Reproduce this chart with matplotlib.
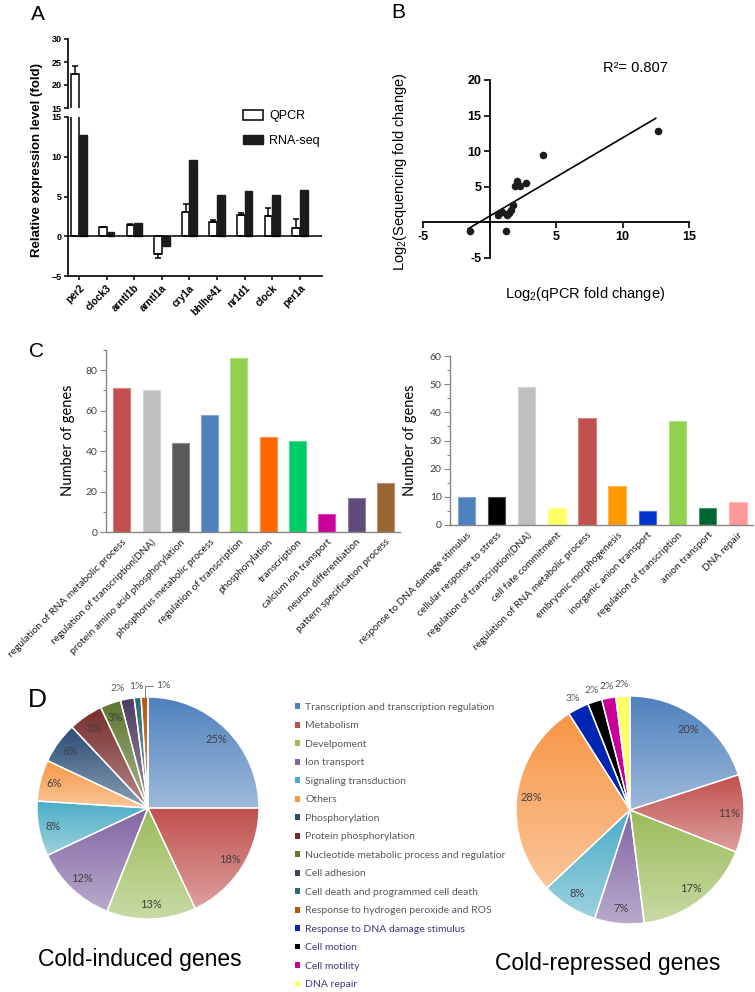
import numpy as np
import matplotlib
matplotlib.use('Agg')
import matplotlib.pyplot as plt
from matplotlib.patches import Patch
from matplotlib.ticker import FixedLocator, MultipleLocator, FuncFormatter
import matplotlib.colors as mcolors

plt.rcParams['font.family'] = ['Liberation Sans', 'DejaVu Sans']
plt.rcParams['mathtext.fontset'] = 'custom'
plt.rcParams['mathtext.rm'] = 'Liberation Sans'
plt.rcParams['mathtext.it'] = 'Liberation Sans:italic'

# ---------------- DATA ----------------
# Panel A
genes = ['per2', 'clock3', 'arntl1b', 'arntl1a', 'cry1a', 'bhlhe41', 'nr1d1', 'clock', 'per1a']
qpcr = [22.3, 1.15, 1.47, -2.25, 3.0, 1.75, 2.73, 2.52, 1.1]
qpcr_err = [1.9, 0.05, 0.05, 0.45, 1.0, 0.3, 0.2, 1.0, 1.1]
rnaseq = [12.7, 0.5, 1.64, -1.25, 9.55, 5.25, 5.63, 5.2, 5.8]

# Panel B
qpcr_log = [-1.5, 1.25, 0.65, 0.95, 1.35, 1.5, 1.6, 1.8, 1.95, 2.1, 2.3, 2.75, 4.0, 12.7]
seq_log = [-1.2, -1.15, 1.0, 1.5, 1.0, 1.35, 1.7, 2.45, 5.15, 5.75, 5.15, 5.55, 9.5, 12.9]
fit_slope = 1.10
fit_intercept = 0.87
fit_range = [-1.6, 12.5]
r2_text = 'R\u00b2= 0.807'

# Panel C (left: cold-induced)
c1_terms = ['regulation of RNA metabolic process', 'regulation of transcription(DNA)',
            'protein amino acid phosphorylation', 'phosphorus metabolic process',
            'regulation of transcription', 'phosphorylation', 'transcription',
            'calcium ion transport', 'neuron differentiation', 'pattern specification process']
c1_counts = [71, 70, 44, 58, 86, 47, 45, 9, 17, 24]
c1_colors = ['#C0504D', '#BFBFBF', '#595959', '#4F81BD', '#92D050', '#FF6600',
             '#00CC66', '#CC0099', '#604A7B', '#996633']

# Panel C (right: cold-repressed)
c2_terms = ['response to DNA damage stimulus', 'cellular response to stress',
            'regulation of transcription(DNA)', 'cell fate commitment',
            'regulation of RNA metabolic process', 'embryonic morphogenesis',
            'inorganic anion transport', 'regulation of transcription',
            'anion transport', 'DNA repair']
c2_counts = [10, 10, 49, 6, 38, 14, 5, 37, 6, 8]
c2_colors = ['#4F81BD', '#000000', '#BFBFBF', '#FFFF66', '#C0504D', '#FF9900',
             '#0033CC', '#92D050', '#006633', '#FF9999']

# Panel D
d_categories = ['Transcription and transcription regulation', 'Metabolism', 'Develpoment',
                'Ion transport', 'Signaling transduction', 'Others', 'Phosphorylation',
                'Protein phosphorylation', 'Nucleotide metabolic process and regulatior',
                'Cell adhesion', 'Cell death and programmed cell death',
                'Response to hydrogen peroxide and ROS', 'Response to DNA damage stimulus',
                'Cell motion', 'Cell motility', 'DNA repair']
d_colors = ['#4F81BD', '#C0504D', '#9BBB59', '#8064A2', '#4BACC6', '#F79646', '#2C4D75',
            '#772C2A', '#5F7530', '#4D3B62', '#276A7C', '#B65708', '#0026B3', '#000000',
            '#CC0099', '#FFFF66']
d_lighten = [0.45] * 12 + [0.0] * 4
d_textcolors = ['#595959'] * 12 + ['#3A3A80'] * 4

induced_cats = d_categories[:12]
induced_pct = [25, 18, 13, 12, 8, 6, 6, 5, 3, 2, 1, 1]
repressed_cats = ['Transcription and transcription regulation', 'Metabolism', 'Develpoment',
                  'Ion transport', 'Signaling transduction', 'Others',
                  'Response to DNA damage stimulus', 'Cell motion', 'Cell motility', 'DNA repair']
repressed_pct = [20, 11, 17, 7, 8, 28, 3, 2, 2, 2]

# ---------------- FIGURE ----------------
W, H = 755, 992
fig = plt.figure(figsize=(W / 100, H / 100), dpi=100)


def ax_px(l, t, r, b):
    return fig.add_axes([l / W, 1 - b / H, (r - l) / W, (b - t) / H])


def fx(px):
    return px / W


def fy(py):
    return 1 - py / H


# ---------------- Panel A ----------------
xa = np.arange(len(genes))
bw = 0.28
ax_top = ax_px(68, 39, 322, 108)
ax_bot = ax_px(68, 117, 322, 276)
lower = [e if v < 0 else 0 for v, e in zip(qpcr, qpcr_err)]
upper = [e if v > 0 else 0 for v, e in zip(qpcr, qpcr_err)]
for ax in (ax_top, ax_bot):
    ax.bar(xa - bw / 2, qpcr, bw, color='white', edgecolor='black', linewidth=1.1, zorder=2)
    ax.bar(xa + bw / 2, rnaseq, bw, color='#1c1c1c', edgecolor='#1c1c1c', linewidth=1.0, zorder=2)
    ax.errorbar(xa - bw / 2, qpcr, yerr=[lower, upper], fmt='none', ecolor='black',
                elinewidth=1.1, capsize=2.2, capthick=1.1, zorder=3)
    ax.set_xlim(-0.4, 8.8)
    ax.spines['top'].set_visible(False)
    ax.spines['right'].set_visible(False)
    ax.spines['left'].set_linewidth(1.2)
    ax.spines['bottom'].set_linewidth(1.2)
    ax.tick_params(axis='y', direction='out', length=3, width=1.1, labelsize=6.5, pad=1.5)
ax_top.set_ylim(15, 30)
ax_top.set_yticks([15, 20, 25, 30])
ax_top.spines['bottom'].set_visible(False)
ax_top.set_xticks([])
ax_bot.set_ylim(-5, 15)
ax_bot.set_yticks([-5, 0, 5, 10, 15])
ax_bot.axhline(0, color='black', lw=1.1, zorder=3)
ax_bot.set_xticks(xa)
ax_bot.set_xticklabels(genes, rotation=45, ha='right', va='top', rotation_mode='anchor',
                       fontsize=7.3, fontweight='bold')
ax_bot.tick_params(axis='x', direction='out', length=3, width=1.1, pad=2)
for ax in (ax_top, ax_bot):
    plt.setp(ax.get_yticklabels(), fontweight='bold')
fig.text(fx(37), fy(160), 'Relative expression level (fold)', rotation=90, ha='center',
         va='center', fontsize=9.5, fontweight='bold')
ax_bot.legend(handles=[Patch(facecolor='white', edgecolor='black', linewidth=1.1, label='QPCR'),
                       Patch(facecolor='#1c1c1c', edgecolor='#1c1c1c', label='RNA-seq')],
              loc='upper left', bbox_to_anchor=(fx(243), fy(110)), bbox_transform=fig.transFigure,
              frameon=False, fontsize=9, handlelength=1.6, handleheight=0.8,
              labelspacing=1.0, handletextpad=0.5, borderpad=0, borderaxespad=0)
fig.text(fx(31), fy(20), 'A', fontsize=15, va='baseline')

# ---------------- Panel B ----------------
axB = ax_px(423, 80, 689, 258)
axB.scatter(qpcr_log, seq_log, s=30, color='#1c1c1c', zorder=3, linewidths=0)
xl = np.array(fit_range)
axB.plot(xl, fit_slope * xl + fit_intercept, color='black', lw=1.2)
axB.set_xlim(-5, 15)
axB.set_ylim(-5, 20)
axB.spines['left'].set_position(('data', 0))
axB.spines['bottom'].set_position(('data', 0))
axB.spines['top'].set_visible(False)
axB.spines['right'].set_visible(False)
for s in ('left', 'bottom'):
    axB.spines[s].set_linewidth(1.3)
axB.xaxis.set_major_locator(FixedLocator([-5, 0, 5, 10, 15]))
axB.yaxis.set_major_locator(FixedLocator([-5, 0, 5, 10, 15, 20]))
fmt0 = FuncFormatter(lambda v, p: '' if v == 0 else f'{v:g}')
axB.xaxis.set_major_formatter(fmt0)
axB.yaxis.set_major_formatter(fmt0)
axB.tick_params(direction='out', length=4, width=1.2, labelsize=9, pad=2)
plt.setp(axB.get_xticklabels() + axB.get_yticklabels(), fontweight='bold')
fig.text(fx(603), fy(68), r2_text, fontsize=10.5, va='center', ha='left')
fig.text(fx(400), fy(172), 'Log$_2$(Sequencing fold change)', rotation=90, ha='center',
         va='center', fontsize=10.5)
fig.text(fx(585), fy(294), 'Log$_2$(qPCR fold change)', ha='center', va='center', fontsize=10.5)
fig.text(fx(391), fy(18), 'B', fontsize=15, va='baseline')

# ---------------- Panel C ----------------
cfont = ['Lato', 'DejaVu Sans']


def bar_panel(ax, terms, counts, colors, ymax, major, minor):
    xc = np.arange(len(terms))
    edge = [tuple(np.array(mcolors.to_rgb(c)) + (1 - np.array(mcolors.to_rgb(c))) * 0.3) for c in colors]
    ax.bar(xc, counts, 0.58, color=colors, edgecolor=edge, linewidth=0.8, zorder=2)
    ax.set_xlim(-0.54, 9.5)
    ax.set_ylim(0, ymax)
    ax.yaxis.set_major_locator(MultipleLocator(major))
    ax.yaxis.set_minor_locator(MultipleLocator(minor))
    ax.spines['top'].set_visible(False)
    ax.spines['right'].set_visible(False)
    for s in ('left', 'bottom'):
        ax.spines[s].set_color('#868686')
        ax.spines[s].set_linewidth(1.0)
    ax.tick_params(axis='y', which='both', direction='out', color='#868686', width=0.8,
                   labelsize=7.5, labelcolor='#404040', pad=2)
    ax.tick_params(axis='y', which='major', length=4)
    ax.tick_params(axis='y', which='minor', length=2.5)
    ax.set_xticks(xc)
    ax.set_xticklabels(terms, rotation=45, ha='right', va='top', rotation_mode='anchor',
                       fontsize=7.3, family=cfont, color='#1a1a1a')
    ax.tick_params(axis='x', length=0, pad=4)
    for lab in ax.get_yticklabels():
        lab.set_family(cfont)


axC1 = ax_px(106, 350, 400, 532)
bar_panel(axC1, c1_terms, c1_counts, c1_colors, 90, 20, 10)
axC2 = ax_px(450, 356, 753, 525)
bar_panel(axC2, c2_terms, c2_counts, c2_colors, 60, 10, 5)
fig.text(fx(68), fy(440), 'Number of genes', rotation=90, ha='center', va='center',
         fontsize=10.5, family=cfont)
fig.text(fx(410), fy(440), 'Number of genes', rotation=90, ha='center', va='center',
         fontsize=10.5, family=cfont)
fig.text(fx(29), fy(357), 'C', fontsize=15, va='baseline')

# ---------------- Panel D ----------------
cmap_d = dict(zip(d_categories, d_colors))
light_d = dict(zip(d_categories, d_lighten))


def draw_pie(ax, cats, vals, outside_thresh, leader_last, right_align_deg):
    cols = [cmap_d[c] for c in cats]
    wedges, _ = ax.pie(vals, colors=cols, startangle=90, counterclock=False,
                       wedgeprops=dict(edgecolor='white', linewidth=1.0))
    for w, c, cat in zip(wedges, cols, cats):
        w.set_facecolor('none')
        w.set_zorder(3)
        ext = w.get_path().get_extents()
        base = np.array(mcolors.to_rgb(c))
        light = base + (1 - base) * light_d[cat]
        t = np.linspace(0, 1, 64)[:, None]
        grad = (base * (1 - t) + light * t)[:, None, :]
        im = ax.imshow(grad, extent=(ext.x0, ext.x1, ext.y0, ext.y1), origin='upper',
                       aspect='auto', zorder=2, interpolation='bilinear')
        im.set_clip_path(w)
    n = len(wedges)
    for i, (w, v) in enumerate(zip(wedges, vals)):
        mid = (w.theta1 + w.theta2) / 2
        ang = np.deg2rad(mid)
        from_top = ((mid - 90 + 180) % 360) - 180   # >0 : left of 12 o'clock
        lab = f'{v}%'
        if leader_last and i == n - 1:
            x0, y0 = 0.98 * np.cos(ang), 0.98 * np.sin(ang)
            ax.annotate(lab, xy=(x0, y0), xytext=(x0 + 0.1, 1.1), ha='left', va='center',
                        fontsize=7.5, family=cfont, color='#595959',
                        arrowprops=dict(arrowstyle='-', color='#808080', lw=0.7,
                                        shrinkA=0, shrinkB=0,
                                        connectionstyle='angle,angleA=0,angleB=90,rad=0'))
        elif v <= outside_thresh:
            r = 1.1
            ha = 'right' if from_top > right_align_deg else 'center'
            ax.text(r * np.cos(ang), r * np.sin(ang), lab, ha=ha, va='center',
                    fontsize=7.5, family=cfont, color='#595959')
        else:
            r = 0.87
            ax.text(r * np.cos(ang), r * np.sin(ang), lab, ha='center', va='center',
                    fontsize=8, family=cfont, color='#404040')
    ax.set_xlim(-1, 1)
    ax.set_ylim(-1, 1)
    ax.set_aspect('equal')
    ax.axis('off')


axP1 = ax_px(37, 697, 259, 919)
draw_pie(axP1, induced_cats, induced_pct, 2, True, 8)
axP2 = ax_px(516, 696, 744, 924)
draw_pie(axP2, repressed_cats, repressed_pct, 3, False, 99)

fig.text(fx(140), fy(966), 'Cold-induced genes', ha='center', va='baseline', fontsize=16.5)
fig.text(fx(608), fy(970), 'Cold-repressed genes', ha='center', va='baseline', fontsize=16.5)
fig.text(fx(28), fy(707), 'D', fontsize=19, va='baseline')

handles = [Patch(facecolor=c, edgecolor='none', label=l) for l, c in zip(d_categories, d_colors)]
leg = fig.legend(handles=handles, loc='upper left', bbox_to_anchor=(fx(295), fy(703)),
                 frameon=False, prop={'family': cfont, 'size': 7.5}, handlelength=0.5,
                 handleheight=0.5, handletextpad=0.5, labelspacing=0.91,
                 borderpad=0, borderaxespad=0)
for txt, tc in zip(leg.get_texts(), d_textcolors):
    txt.set_color(tc)

fig.savefig('out.png', dpi=100)
